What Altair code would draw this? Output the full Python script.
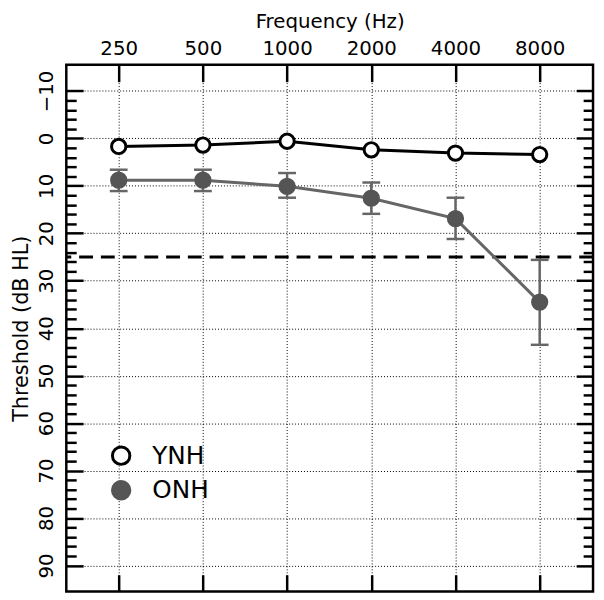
import altair as alt
import pandas as pd

# ---- data ----
freqs = [250, 500, 1000, 2000, 4000, 8000]
ynh = [1.7, 1.4, 0.6, 2.4, 3.1, 3.4]
onh = [8.8, 8.8, 10.1, 12.6, 16.9, 34.5]
onh_lo = [6.6, 6.6, 7.3, 9.3, 12.5, 25.6]
onh_hi = [11.1, 11.1, 12.5, 15.9, 21.2, 43.5]
groups = ["YNH", "ONH"]
ref_level = [25]
y_major = list(range(-10, 100, 10))
y_minor = [v for v in range(-10, 92, 2) if v % 10 != 0]

df = pd.DataFrame({
    "f": freqs + freqs,
    "thr": ynh + onh,
    "group": ["YNH"] * len(freqs) + ["ONH"] * len(freqs),
})
df_ynh = df[df["group"] == "YNH"]
df_onh = df[df["group"] == "ONH"]
df_err = pd.DataFrame({"f": freqs, "lo": onh_lo, "hi": onh_hi})
df_ref = pd.DataFrame({"thr": ref_level})

xs = alt.Scale(type="log", base=2, domain=[162.4, 12413], nice=False)
ys = alt.Scale(domain=[-15.5, 95.5], reverse=True, nice=False, zero=False)

TICK = dict(ticks=True, tickColor="black", tickWidth=2.5)


def ax(**kw):
    base = dict(domain=False, grid=False, ticks=False, labels=False, title=None)
    base.update(kw)
    return alt.Axis(**base)


grid_x = ax(orient="top", grid=True, values=freqs, gridColor="black",
            gridDash=[1, 2], gridWidth=1)
grid_y = ax(orient="left", grid=True, values=y_major, gridColor="black",
            gridDash=[1, 2], gridWidth=1)

top_axis = ax(orient="top", offset=-17, tickSize=17, values=freqs, labels=True,
              labelFontSize=20, labelPadding=6, labelColor="black",
              labelFlush=False, labelOverlap=False, format="d",
              title="Frequency (Hz)", titleFontSize=20, titleFontWeight="normal",
              titleColor="black", titleX=266.5, titleY=-55,
              titleBaseline="alphabetic", titleAlign="center", **TICK)
bottom_axis = ax(orient="bottom", offset=-17, tickSize=17, values=freqs, **TICK)

left_major = ax(orient="left", offset=-17, tickSize=17, values=y_major,
                labels=True, labelAngle=270, labelAlign="center",
                labelBaseline="bottom", labelPadding=10, labelFontSize=20,
                labelColor="black", labelOverlap=False, labelFlush=False,
                labelExpr="datum.value < 0 ? '\u2212' + abs(datum.value) : '' + datum.value",
                title="Threshold (dB HL)", titleFontSize=21,
                titleFontWeight="normal", titleColor="black", titleX=-56,
                titleY=266.5, titleAngle=270, titleBaseline="alphabetic",
                titleAlign="center", **TICK)
left_minor = ax(orient="left", offset=-10, tickSize=10, values=y_minor, **TICK)
right_major = ax(orient="right", offset=-17, tickSize=17, values=y_major, **TICK)
right_minor = ax(orient="right", offset=-10, tickSize=10, values=y_minor, **TICK)

ref = alt.Chart(df_ref).mark_rule(color="black", strokeWidth=3, strokeDash=[14, 8]).encode(
    y=alt.Y("thr:Q", scale=ys, axis=grid_y)
)

line_ynh = alt.Chart(df_ynh).mark_line(color="black", strokeWidth=3).encode(
    x=alt.X("f:Q", scale=xs, axis=grid_x),
    y=alt.Y("thr:Q", scale=ys, axis=left_major),
)

line_onh = alt.Chart(df_onh).mark_line(color="#666666", strokeWidth=3).encode(
    x=alt.X("f:Q", scale=xs, axis=top_axis),
    y=alt.Y("thr:Q", scale=ys, axis=right_major),
)

err = alt.Chart(df_err).mark_rule(color="#666666", strokeWidth=2.5).encode(
    x=alt.X("f:Q", scale=xs, axis=bottom_axis),
    y=alt.Y("lo:Q", scale=ys, axis=left_minor),
    y2="hi:Q",
)

cap_lo = alt.Chart(df_err).mark_tick(orient="horizontal", size=18, thickness=2.5,
                                     color="#666666", opacity=1).encode(
    x=alt.X("f:Q", scale=xs, axis=None),
    y=alt.Y("lo:Q", scale=ys, axis=right_minor),
)
cap_hi = alt.Chart(df_err).mark_tick(orient="horizontal", size=18, thickness=2.5,
                                     color="#666666", opacity=1).encode(
    x=alt.X("f:Q", scale=xs, axis=None),
    y=alt.Y("hi:Q", scale=ys, axis=None),
)

leg = dict(title=None, orient="none", legendX=43, legendY=383, symbolSize=310,
           symbolStrokeWidth=3, symbolType="circle", labelFontSize=25,
           labelColor="black", labelOffset=19, rowPadding=4, padding=0,
           labelBaseline="middle")

points = alt.Chart(df).mark_point(shape="circle", size=210, strokeWidth=3,
                                  fillOpacity=1, opacity=1).encode(
    x=alt.X("f:Q", scale=xs, axis=None),
    y=alt.Y("thr:Q", scale=ys, axis=None),
    fill=alt.Fill("group:N", scale=alt.Scale(domain=groups, range=["white", "#555555"]),
                  legend=alt.Legend(**leg)),
    stroke=alt.Stroke("group:N", scale=alt.Scale(domain=groups, range=["black", "#555555"]),
                      legend=alt.Legend(**leg)),
)

chart = alt.layer(ref, line_ynh, line_onh, err, cap_lo, cap_hi, points).resolve_axis(
    x="independent", y="independent"
).properties(
    width=533, height=533,
    padding={"left": 59, "top": 54, "right": 3, "bottom": 4},
    autosize=alt.AutoSizeParams(type="none"),
).configure(font="DejaVu Sans").configure_view(stroke="black", strokeWidth=2.5)

chart.save("out.html", embed_options={"renderer": "svg", "actions": False})
